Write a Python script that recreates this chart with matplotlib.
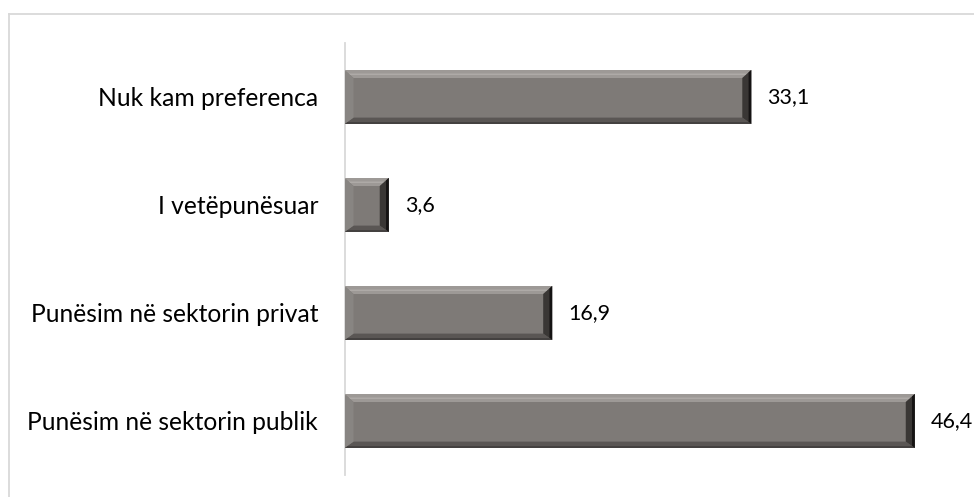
import matplotlib
matplotlib.use("Agg")
import matplotlib.pyplot as plt
from matplotlib.patches import Polygon
from matplotlib.lines import Line2D

categories = ["Punësim në sektorin publik", "Punësim në sektorin privat",
              "I vetëpunësuar", "Nuk kam preferenca"]
values = [46.4, 16.9, 3.6, 33.1]

W, H = 974, 497
fig = plt.figure(figsize=(W/100, H/100), dpi=100)
plt.rcParams['font.family'] = ['Lato', 'DejaVu Sans']

ax_left, ax_right = 344.5/W, 959/W
ax_bottom, ax_top = 22/H, 454/H
ax = fig.add_axes([ax_left, ax_bottom, ax_right-ax_left, ax_top-ax_bottom])
xmax = 50.0
ax.set_xlim(0, xmax)
ax.set_ylim(-0.5, len(categories)-0.5)

bar_h = 0.5
base = "#7e7a77"
bars = ax.barh(range(len(categories)), values, height=bar_h, color=base, edgecolor="none", zorder=2)

px_x = xmax / (959-344.5)          # data units per pixel (x)
px_y = len(categories) / (454-22)  # data units per pixel (y)

for i, v in enumerate(values):
    x0, x1 = 0, v
    y0, y1 = i - bar_h/2, i + bar_h/2
    bx = 9*px_x
    by = 8*px_y
    # top bevel (light)
    ax.add_patch(Polygon([[x0, y1], [x1, y1], [x1-bx, y1-by], [x0+bx, y1-by]],
                         closed=True, color="#9d9996", lw=0, zorder=3))
    ax.add_patch(Polygon([[x0+bx*0.5, y1-by*0.45], [x1-bx*0.5, y1-by*0.45],
                          [x1-bx*0.6, y1-by*0.6], [x0+bx*0.6, y1-by*0.6]],
                         closed=True, color="#b3afac", lw=0, zorder=3))
    # bottom bevel (dark)
    ax.add_patch(Polygon([[x0, y0], [x1, y0], [x1-bx, y0+by*0.8], [x0+bx, y0+by*0.8]],
                         closed=True, color="#5a5654", lw=0, zorder=3))
    ax.add_patch(Polygon([[x0, y0], [x1, y0], [x1-bx*0.3, y0+by*0.25], [x0+bx*0.3, y0+by*0.25]],
                         closed=True, color="#444140", lw=0, zorder=3))
    # left bevel
    ax.add_patch(Polygon([[x0, y0], [x0, y1], [x0+bx, y1-by], [x0+bx, y0+by*0.8]],
                         closed=True, color="#888582", lw=0, zorder=4))
    # right bevel (dark)
    ax.add_patch(Polygon([[x1, y0], [x1, y1], [x1-bx, y1-by], [x1-bx, y0+by*0.8]],
                         closed=True, color="#3a3735", lw=0, zorder=4))
    ax.add_patch(Polygon([[x1, y0], [x1, y1], [x1-bx*0.3, y1-by*0.3], [x1-bx*0.3, y0+by*0.3]],
                         closed=True, color="#151313", lw=0, zorder=4))
    ax.text(v + 16*px_x, i, f"{v:.1f}".replace(".", ","), va="center", ha="left",
            fontsize=15.5, color="#000000")

ax.set_yticks(range(len(categories)))
ax.set_yticklabels(categories, fontsize=17.7, color="#000000")
ax.tick_params(axis="y", length=0, pad=19)
ax.set_xticks([])
for s in ["top", "right", "bottom"]:
    ax.spines[s].set_visible(False)
ax.spines["left"].set_color("#d9d9d9")
ax.spines["left"].set_linewidth(1.3)
ax.patch.set_visible(False)

# outer chart border (partially visible)
fig.add_artist(Line2D([8.5/W, 1], [1-13.5/H, 1-13.5/H], transform=fig.transFigure, color="#d9d9d9", lw=1.3))
fig.add_artist(Line2D([8.5/W, 8.5/W], [0, 1-13.5/H], transform=fig.transFigure, color="#d9d9d9", lw=1.3))

fig.savefig("out.png", dpi=100)
